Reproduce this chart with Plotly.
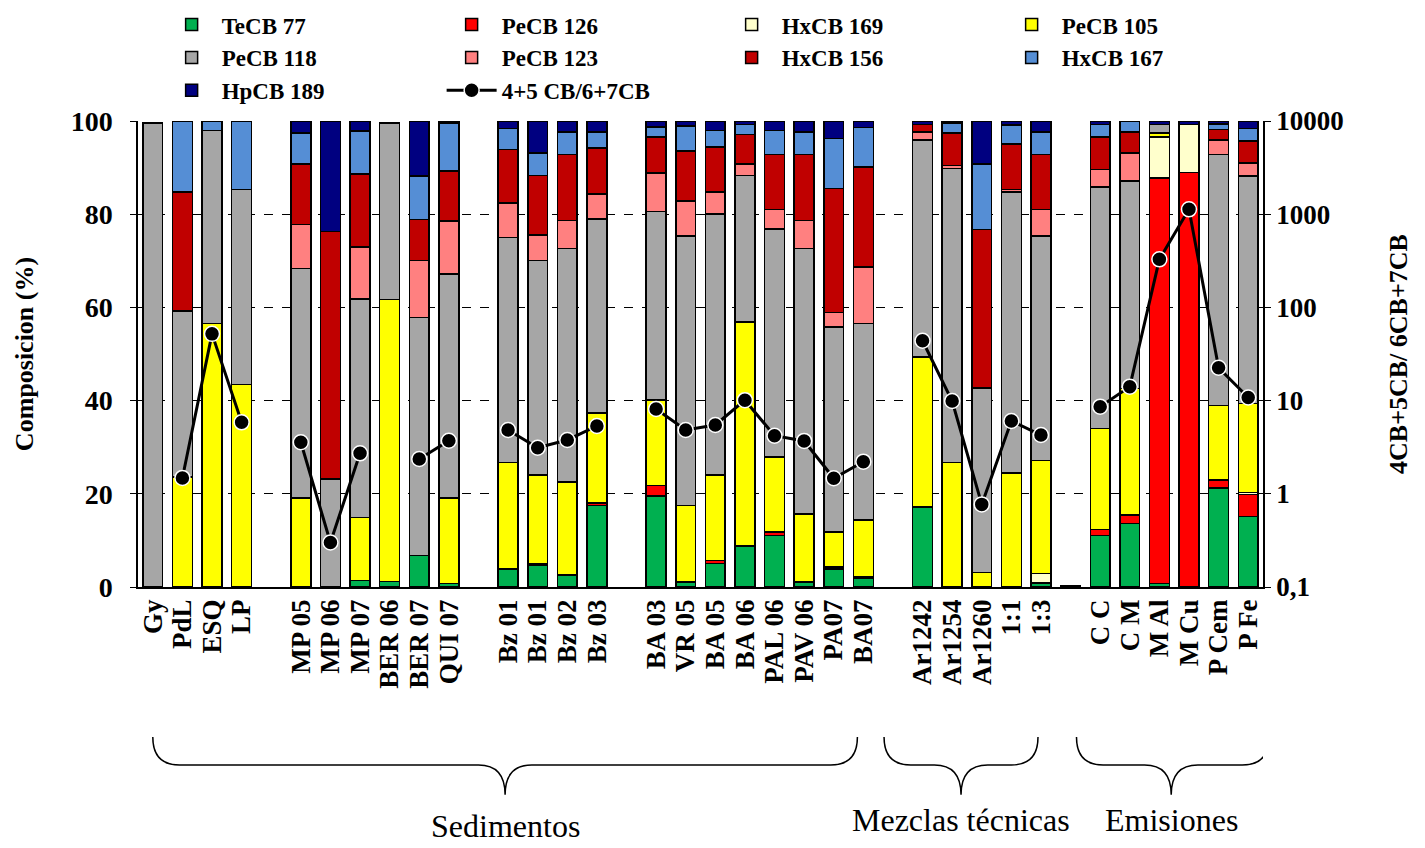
import plotly.graph_objects as go

# categorias (las cadenas vacias son huecos entre grupos)
etiquetas = ['Gy', 'PdL', 'ESQ', 'LP', '',
             'MP 05', 'MP 06', 'MP 07', 'BER 06', 'BER 07', 'QUI 07', '',
             'Bz 01', 'Bz 01', 'Bz 02', 'Bz 03', '',
             'BA 03', 'VR 05', 'BA 05', 'BA 06', 'PAL 06', 'PAV 06', 'PA07', 'BA07', '',
             'Ar1242', 'Ar1254', 'Ar1260', '1:1', '1:3', '',
             'C C', 'C M', 'M Al', 'M Cu', 'P Cem', 'P Fe']

tecb77 = [0, 0, 0, 0, 0,
          0, 0, 1.4, 1.2, 6.8, 0.7, 0,
          3.9, 4.6, 2.6, 17.5, 0,
          19.5, 1.1, 5.0, 8.8, 11.1, 1.1, 3.9, 1.8, 0,
          17.2, 0, 0, 0, 0.9, 0,
          11.1, 13.6, 0.7, 0, 21.2, 15.1]
pecb126 = [0, 0, 0, 0, 0,
           0, 0, 0, 0, 0, 0, 0,
           0, 0.3, 0, 0.5, 0,
           2.3, 0, 0.7, 0, 0.7, 0, 0.4, 0.3, 0,
           0, 0, 0, 0, 0, 0,
           1.2, 1.8, 87.1, 88.9, 1.8, 4.7]
hxcb169 = [0, 0, 0, 0, 0,
           0, 0, 0, 0, 0, 0, 0,
           0, 0, 0, 0, 0,
           0, 0, 0, 0, 0, 0, 0, 0, 0,
           0, 0, 0, 0, 2.0, 0,
           0, 0, 8.8, 10.4, 0, 0.5]
pecb105 = [0, 23.6, 56.5, 43.5, 0,
           19.1, 0, 13.5, 60.5, 0, 18.4, 0,
           22.8, 19.1, 19.9, 19.3, 0,
           18.3, 16.4, 18.3, 48.1, 16.1, 14.6, 7.5, 12.3, 0,
           32.2, 26.7, 3.1, 24.5, 24.3, 0,
           21.7, 27.2, 0.8, 0, 16.0, 19.1]
pecb118 = [99.6, 35.6, 41.5, 41.8, 0,
           49.2, 23.2, 46.9, 37.9, 51.0, 48.1, 0,
           48.3, 46.1, 50.1, 41.7, 0,
           40.5, 57.8, 56.0, 31.4, 48.9, 56.9, 44.0, 42.1, 0,
           46.5, 63.1, 39.6, 60.3, 48.1, 0,
           51.8, 44.5, 1.9, 0, 53.8, 48.8]
pecb123 = [0, 0, 0, 0, 0,
           9.5, 0, 11.2, 0, 12.3, 11.3, 0,
           7.4, 5.4, 6.1, 5.3, 0,
           8.2, 7.5, 4.8, 2.5, 4.2, 6.1, 3.1, 12.2, 0,
           1.7, 0.7, 0, 0.5, 5.7, 0,
           3.8, 6.0, 0, 0, 3.1, 2.8]
hxcb156 = [0, 25.6, 0, 0, 0,
           13.0, 53.1, 15.6, 0, 8.8, 10.8, 0,
           11.5, 12.8, 14.1, 9.9, 0,
           7.8, 10.8, 9.6, 6.3, 11.8, 14.1, 26.6, 21.4, 0,
           1.7, 6.9, 34.0, 9.8, 11.8, 0,
           7.0, 4.5, 0, 0, 2.3, 4.7]
hxcb167 = [0, 15.2, 2.0, 14.7, 0,
           6.6, 0, 9.3, 0, 9.3, 10.3, 0,
           4.5, 4.8, 4.8, 3.4, 0,
           2.1, 5.3, 3.6, 2.2, 5.2, 4.8, 10.7, 8.5, 0,
           0, 2.2, 14.1, 4.0, 4.8, 0,
           2.7, 2.4, 0, 0, 1.2, 2.7]
hpcb189 = [0, 0, 0, 0, 0,
           2.6, 23.7, 2.1, 0, 11.8, 0.4, 0,
           1.6, 6.9, 2.4, 2.4, 0,
           1.3, 1.1, 2.0, 0.7, 2.0, 2.4, 3.8, 1.4, 0,
           0.7, 0.4, 9.2, 0.9, 2.4, 0.3,
           0.7, 0, 0.7, 0.7, 0.6, 1.6]
# cociente 4+5 CB / 6+7 CB (eje log)
cociente = [None, 1.48, 52, 5.85, None,
            3.57, 0.30, 2.72, None, 2.36, 3.71, None,
            4.84, 3.12, 3.78, 5.34, None,
            8.13, 4.84, 5.47, 10.1, 4.2, 3.69, 1.47, 2.21, None,
            43.9, 9.9, 0.77, 6.04, 4.27, None,
            8.6, 14.1, 328, 1128, 22.5, 10.8]

series = [
    ('TeCB 77', tecb77, '#00B050'),
    ('PeCB 126', pecb126, '#FF0000'),
    ('HxCB 169', hxcb169, '#FFFFCC'),
    ('PeCB 105', pecb105, '#FFFF00'),
    ('PeCB 118', pecb118, '#A6A6A6'),
    ('PeCB 123', pecb123, '#FF8080'),
    ('HxCB 156', hxcb156, '#C00000'),
    ('HxCB 167', hxcb167, '#558ED5'),
    ('HpCB 189', hpcb189, '#000080'),
]

grupos = [('Sedimentos', 0.0, 23.8, 11.9),
          ('Mezclas técnicas', 24.7, 29.9, 27.3),
          ('Emisiones', 31.2, 37.7, 34.4)]

FUENTE = 'Times New Roman, Liberation Serif, serif'
xs = list(range(len(etiquetas)))

fig = go.Figure()
for nombre, vals, color in series:
    # los ceros no se dibujan (como en Excel)
    fig.add_trace(go.Bar(
        x=xs, y=[v if v else None for v in vals], name=nombre,
        marker=dict(color=color, line=dict(color='black', width=1.5)),
    ))

fig.add_trace(go.Scatter(
    x=xs, y=cociente, name='4+5 CB/6+7CB', yaxis='y2',
    mode='lines+markers', connectgaps=False,
    line=dict(color='black', width=3),
    marker=dict(color='black', size=15, line=dict(color='white', width=1.5)),
))


def llave(x0, x1, xm, ytop=-0.322, ymid=-0.382, ytip=-0.446, r=0.9):
    return (f'M {x0},{ytop} Q {x0},{ymid} {x0 + r},{ymid} L {xm - r},{ymid} '
            f'Q {xm},{ymid} {xm},{ytip} Q {xm},{ymid} {xm + r},{ymid} '
            f'L {x1 - r},{ymid} Q {x1},{ymid} {x1},{ytop}')


shapes = []
annotations = []
for texto, a, b, m in grupos:
    shapes.append(dict(type='path', xref='x', yref='paper', path=llave(a, b, m),
                       line=dict(color='black', width=1.5)))
    annotations.append(dict(text=texto, x=m, xref='x', y=-0.5 if texto != 'Sedimentos' else -0.512,
                            yref='paper', showarrow=False, yanchor='middle',
                            font=dict(family=FUENTE, size=32, color='black', weight='normal')))

# la pagina deja 8 px de margen alrededor del grafico
fig.update_layout(
    barmode='stack', bargap=0.33,
    width=1417, height=840,
    margin=dict(l=130, r=162, t=113, b=261, autoexpand=False),
    plot_bgcolor='white', paper_bgcolor='white',
    font=dict(family=FUENTE, size=27, color='black', weight='bold'),
    showlegend=True,
    legend=dict(orientation='h', x=0.021, xanchor='left', y=1.253, yanchor='top',
                font=dict(size=23), entrywidth=215, entrywidthmode='pixels',
                tracegroupgap=0, itemwidth=50, traceorder='normal'),
    xaxis=dict(range=[-0.5, 37.5], tickmode='array', tickvals=xs, ticktext=etiquetas,
               tickangle=-90, showline=True, linecolor='black', linewidth=1.5,
               ticks='', showgrid=False, zeroline=False),
    yaxis=dict(range=[0, 100], tickvals=[0, 20, 40, 60, 80, 100],
               showline=True, linecolor='black', linewidth=1.5, ticks='outside',
               ticklen=6, tickcolor='black', showgrid=True, gridcolor='black',
               griddash='dash', gridwidth=1, zeroline=False,
               ticklabelstandoff=12, tickfont=dict(size=28),
               title=dict(text='Composicion (%)', standoff=30, font=dict(size=26))),
    yaxis2=dict(type='log', overlaying='y', side='right', range=[-1, 4],
                tickvals=[0.1, 1, 10, 100, 1000, 10000],
                ticktext=['0,1', '1', '10', '100', '1000', '10000'],
                showline=True, linecolor='black', linewidth=1.5, ticks='outside',
                ticklen=6, tickcolor='black', showgrid=False, zeroline=False,
                tickfont=dict(size=27),
                title=dict(text='4CB+5CB/ 6CB+7CB', standoff=46, font=dict(size=26))),
    shapes=shapes,
    annotations=annotations,
)

fig.write_html('out.html')
